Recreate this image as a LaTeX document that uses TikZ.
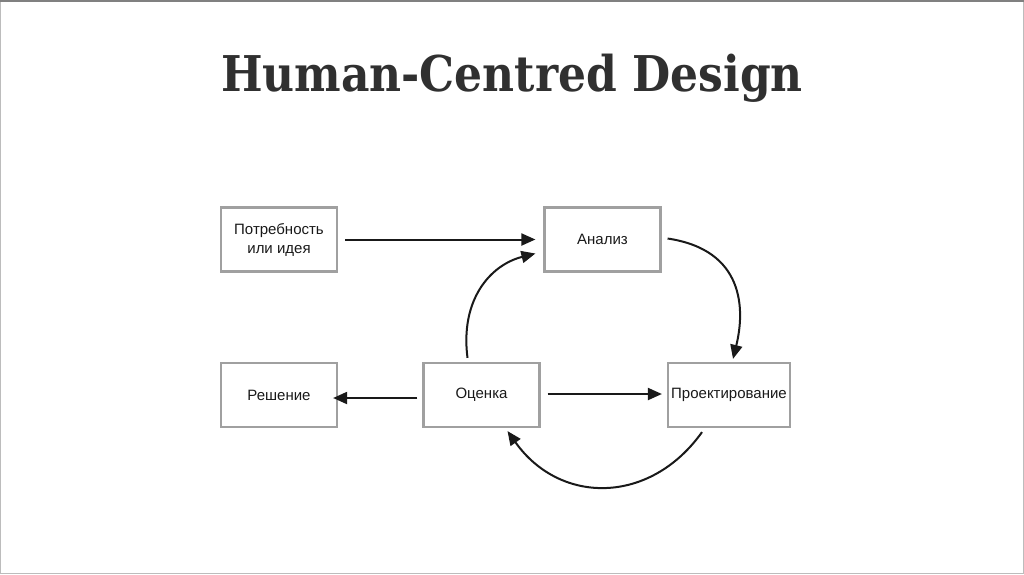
\documentclass[tikz,border=0pt]{standalone}
\usepackage{fontspec}
\setmainfont{Liberation Sans}
\newfontfamily\titlefont{DejaVu Serif}
\usetikzlibrary{arrows.meta}
\definecolor{boxgray}{RGB}{160,160,160}
\definecolor{ink}{RGB}{25,25,25}
\begin{document}
\begin{tikzpicture}[x=1pt,y=-1pt,
  stagebox/.style={draw=boxgray,line width=2.2pt,minimum width=116pt,minimum height=64pt,inner sep=2pt,align=center,font=\fontsize{15}{19}\selectfont,text=ink},
  flow/.style={draw=ink,line width=2pt,-{Triangle[length=14pt,width=12pt]}}]
\useasboundingbox (0,0) rectangle (1024,574);
\draw[boxgray!70,line width=0.8pt] (0.5,0.5) rectangle (1023.5,573.5);
\draw[gray,line width=1.5pt] (0,0.75) -- (1024,0.75);
\node[font=\titlefont\bfseries\fontsize{44}{50}\selectfont,text=ink!90,yscale=1.12] (title) at (512,78) {Human-Centred Design};
\node[stagebox] (need) at (279,239.5) {Потребность\\или идея};
\node[stagebox] (anal) at (602.5,239.5) {Анализ};
\node[stagebox] (sol) at (279,395) {Решение};
\node[stagebox] (eval) at (481.5,395) {Оценка};
\node[stagebox,minimum width=122pt] (proj) at (729,395) {Проектирование};
\draw[flow] ([xshift=7pt]need.east) -- ([xshift=-8pt]anal.west);
\draw[flow] ([xshift=6pt,yshift=1pt]anal.east) .. controls (745,250) and (745,310) .. ([xshift=4pt,yshift=3pt]proj.north);
\draw[flow] ([xshift=-14pt,yshift=4pt]eval.north) .. controls (460,300) and (490,265) .. ([xshift=-8pt,yshift=-14pt]anal.west);
\draw[flow] ([xshift=-5pt,yshift=-3pt]eval.west) -- ([xshift=-5pt,yshift=-3pt]sol.east);
\draw[flow] ([xshift=7pt,yshift=1pt]eval.east) -- ([xshift=-5pt,yshift=1pt]proj.west);
\draw[flow] ([xshift=-27pt,yshift=-4pt]proj.south) .. controls (650,505) and (560,505) .. ([xshift=26pt,yshift=-3pt]eval.south);
\end{tikzpicture}
\end{document}
